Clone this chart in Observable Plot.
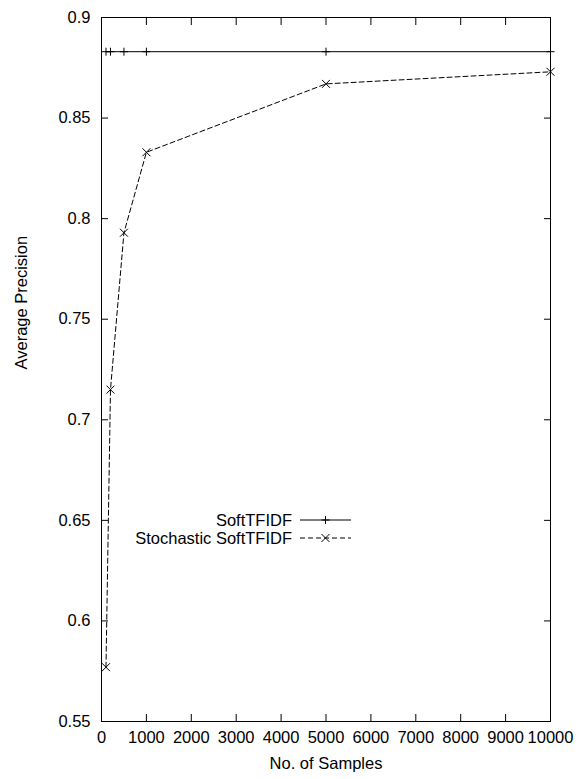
<!DOCTYPE html>
<html><head><meta charset="utf-8">
<script src="https://cdn.jsdelivr.net/npm/d3@7"></script>
<script src="https://cdn.jsdelivr.net/npm/@observablehq/plot@0.6"></script>
<style>
body{margin:0;background:#fff;}
#chart svg{font-family:"Liberation Sans",Arial,Helvetica,sans-serif;}
</style>
</head><body><div id="chart"></div>
<script>
const samples = [100, 200, 500, 1000, 5000, 10000];
const softTFIDF = [0.883, 0.883, 0.883, 0.883, 0.883, 0.883];
const stochasticSoftTFIDF = [0.577, 0.715, 0.793, 0.833, 0.867, 0.873];
const seriesNames = ["SoftTFIDF", "Stochastic SoftTFIDF"];
const xTicks = [0, 1000, 2000, 3000, 4000, 5000, 6000, 7000, 8000, 9000, 10000];
const yTicks = [0.55, 0.6, 0.65, 0.7, 0.75, 0.8, 0.85, 0.9];
const xLabel = "No. of Samples";
const yLabel = "Average Precision";

const soft = samples.map((s, i) => ({x: s, y: softTFIDF[i]}));
const stoch = samples.map((s, i) => ({x: s, y: stochasticSoftTFIDF[i]}));

const FS = 16.5;
const W = 587, H = 779;
const mL = 101, mR = 37, mT = 17, mB = 58;

const chart = Plot.plot({
  width: W, height: H,
  marginLeft: mL, marginRight: mR, marginTop: mT, marginBottom: mB,
  style: {fontSize: FS + "px", fontFamily: '"Liberation Sans", Arial, sans-serif', color: "#000", background: "#fff", overflow: "visible"},
  x: {domain: [0, 10000]},
  y: {domain: [0.55, 0.9]},
  marks: [
    Plot.frame({stroke: "#000", strokeWidth: 1}),
    // tick labels
    Plot.axisX(xTicks, {anchor: "bottom", tickSize: 0, tickPadding: 10, label: null, tickFormat: d => String(d), fontSize: FS}),
    Plot.axisY(yTicks, {anchor: "left", tickSize: 0, tickPadding: 11, label: null, tickFormat: d => String(d), fontSize: FS}),
    // inward ticks on all sides
    Plot.axisX(xTicks, {anchor: "bottom", tickSize: -7, text: null, label: null}),
    Plot.axisX(xTicks, {anchor: "top", tickSize: -7, text: null, label: null}),
    Plot.axisY(yTicks, {anchor: "left", tickSize: -7, text: null, label: null}),
    Plot.axisY(yTicks, {anchor: "right", tickSize: -7, text: null, label: null}),
    // data
    Plot.line(soft, {x: "x", y: "y", stroke: "#000", strokeWidth: 1}),
    Plot.dot(soft, {x: "x", y: "y", symbol: "plus", r: 2.7, stroke: "#000", strokeWidth: 1}),
    Plot.line(stoch, {x: "x", y: "y", stroke: "#000", strokeWidth: 1, strokeDasharray: "5,3"}),
    Plot.dot(stoch, {x: "x", y: "y", symbol: "times", r: 3.7, stroke: "#000", strokeWidth: 1}),
    // axis titles
    Plot.text([xLabel], {frameAnchor: "bottom", dy: 42, text: d => d, fontSize: FS, lineAnchor: "middle"}),
    Plot.text([yLabel], {frameAnchor: "left", dx: -80, rotate: -90, text: d => d, fontSize: FS, lineAnchor: "middle"})
  ]
});

document.getElementById("chart").appendChild(chart);

// legend (gnuplot style, inside plot area)
const svg = d3.select(chart);
const lg = svg.append("g").attr("font-size", FS).attr("font-family", '"Liberation Sans", Arial, sans-serif');
const rows = [
  {name: seriesNames[0], dash: null, sym: d3.symbolPlus, size: 22.9},
  {name: seriesNames[1], dash: "5,3", sym: d3.symbolTimes, size: 43.4}
];
const textRight = 292, lineX1 = 300, lineX2 = 351, row0 = 520, rowStep = 18;
rows.forEach((r, i) => {
  const y = row0 + i * rowStep;
  lg.append("text").attr("x", textRight).attr("y", y).attr("dy", "0.35em")
    .attr("text-anchor", "end").attr("fill", "#000").text(r.name);
  lg.append("line").attr("x1", lineX1).attr("x2", lineX2).attr("y1", y).attr("y2", y)
    .attr("stroke", "#000").attr("stroke-width", 1).attr("stroke-dasharray", r.dash);
  lg.append("path").attr("d", d3.symbol(r.sym, r.size)())
    .attr("transform", `translate(${(lineX1 + lineX2) / 2},${y})`)
    .attr("fill", "none").attr("stroke", "#000").attr("stroke-width", 1);
});
</script>
</body></html>
